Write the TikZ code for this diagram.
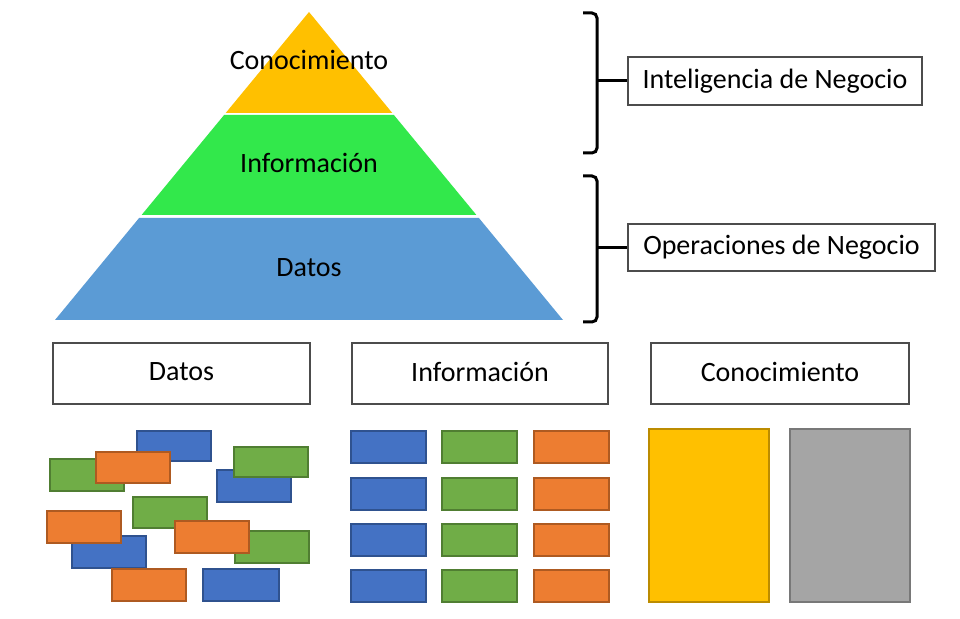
\documentclass[tikz,border=0pt]{standalone}
\usepackage{fontspec}
\setmainfont{Carlito}
\definecolor{pyrYellow}{RGB}{255,192,0}
\definecolor{pyrGreen}{RGB}{50,232,75}
\definecolor{pyrBlue}{RGB}{91,155,213}
\definecolor{bkBlue}{RGB}{68,114,196}
\definecolor{bkBlueD}{RGB}{47,82,143}
\definecolor{bkGreen}{RGB}{112,173,71}
\definecolor{bkGreenD}{RGB}{80,126,50}
\definecolor{bkOrange}{RGB}{237,125,49}
\definecolor{bkOrangeD}{RGB}{174,90,33}
\definecolor{bkYellow}{RGB}{255,192,0}
\definecolor{bkYellowD}{RGB}{188,140,0}
\definecolor{bkGray}{RGB}{165,165,165}
\definecolor{bkGrayD}{RGB}{120,120,120}
\begin{document}
\begin{tikzpicture}[x=0.5pt,y=-0.5pt,
  lbl/.style={font=\fontsize{14}{16}\selectfont, text=black, inner sep=0pt},
  labelbox/.style={draw=black!70, line width=0.6pt, fill=white, lbl},
  brace/.style={draw=black, line width=1.5pt, rounded corners=2.5pt},
  tick/.style={draw=black, line width=1.5pt},
  blk/.style={line width=1.1pt},
  bluebk/.style={blk, fill=bkBlue, draw=bkBlueD},
  greenbk/.style={blk, fill=bkGreen, draw=bkGreenD},
  orangebk/.style={blk, fill=bkOrange, draw=bkOrangeD},
  yellowbk/.style={blk, fill=bkYellow, draw=bkYellowD},
  graybk/.style={blk, fill=bkGray, draw=bkGrayD}]
\useasboundingbox (0,0) rectangle (960,619);

% pyramid layers
\fill[pyrYellow] (309,12) -- (225.7,113) -- (392.3,113) -- cycle;
\fill[pyrGreen] (224.1,115) -- (393.9,115) -- (476.4,215) -- (141.6,215) -- cycle;
\fill[pyrBlue] (139.1,218) -- (478.9,218) -- (563,320) -- (55,320) -- cycle;
\node[lbl] (pk) at (309,60) {Conocimiento};
\node[lbl] (pi) at (309,163) {Información};
\node[lbl] (pd) at (309,268) {Datos};

% side boxes and brackets
\node[labelbox, minimum width=147pt, minimum height=24pt] (bi) at (775,81) {\raisebox{-1.5pt}{Inteligencia de Negocio}};
\node[labelbox, minimum width=153.5pt, minimum height=23.5pt] (bo) at (781.5,247.5) {\raisebox{-0.5pt}{Operaciones de Negocio}};
\draw[brace] (583,13) -- (597,13) -- (597,153) -- (583,153);
\draw[brace] (583,176) -- (597,176) -- (597,322) -- (583,322);
\coordinate (ti) at (597,81);
\coordinate (to) at (597,247.5);
\draw[tick] (ti) -- (bi.west);
\draw[tick] (to) -- (bo.west);

% column headers
\node[labelbox, minimum width=128.5pt, minimum height=30.5pt] (hd) at (181.5,373.5) {\raisebox{2pt}{Datos}};
\node[labelbox, minimum width=128pt, minimum height=30.5pt] (hi) at (480,373.5) {\raisebox{2pt}{Información}};
\node[labelbox, minimum width=129pt, minimum height=30.5pt] (hk) at (780,373.5) {\raisebox{2pt}{Conocimiento}};

% loose data blocks
\draw[bluebk] (137,431) rectangle (211,461);
\draw[greenbk] (50,459) rectangle (124,491);
\draw[orangebk] (96,452) rectangle (170,483);
\draw[bluebk] (217,470) rectangle (291,502);
\draw[greenbk] (234,447) rectangle (308,477);
\draw[greenbk] (133,497) rectangle (207,528);
\draw[greenbk] (235,531) rectangle (309,563);
\draw[orangebk] (175,521) rectangle (249,553);
\draw[bluebk] (72,536) rectangle (146,568);
\draw[orangebk] (47,511) rectangle (121,543);
\draw[orangebk] (112,569) rectangle (186,601);
\draw[bluebk] (203,569) rectangle (279,601);

% ordered information blocks
\foreach \y in {431,478,524,570} {
  \draw[bluebk] (351,\y) rectangle (426,\y+32);
  \draw[greenbk] (442,\y) rectangle (517,\y+32);
  \draw[orangebk] (534,\y) rectangle (609,\y+32);
}

% knowledge blocks
\draw[yellowbk] (649,429) rectangle (769,602);
\draw[graybk] (790,429) rectangle (910,602);
\end{tikzpicture}
\end{document}
